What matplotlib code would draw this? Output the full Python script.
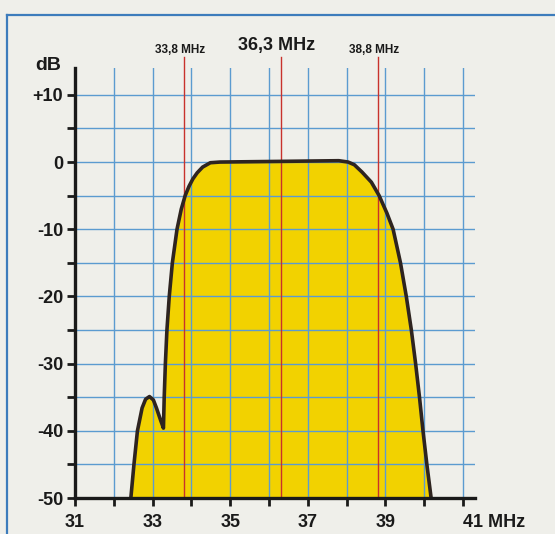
import matplotlib
matplotlib.use("Agg")
import matplotlib.pyplot as plt
from matplotlib.lines import Line2D

# risposta del filtro SAW (MHz, dB)
freq = [32.44, 32.52, 32.61, 32.73, 32.82, 32.92, 33.02, 33.10, 33.20, 33.28,
        33.30, 33.33, 33.37, 33.43, 33.51, 33.63, 33.74, 33.84, 33.94, 34.04,
        34.15, 34.29, 34.49, 34.74, 36.30, 37.80, 38.04, 38.20, 38.40, 38.64,
        38.84, 39.04, 39.20, 39.39, 39.54, 39.67, 39.78, 39.88, 39.97, 40.07,
        40.18]
level = [-50.0, -45.0, -40.0, -36.6, -35.3, -34.9, -35.4, -36.6, -38.3, -39.6,
         -35.0, -30.0, -25.0, -20.0, -15.0, -10.0, -7.0, -5.0, -3.6, -2.5,
         -1.6, -0.75, -0.1, 0.0, 0.1, 0.2, 0.0, -0.4, -1.5, -3.0,
         -5.0, -7.6, -10.0, -15.0, -20.0, -25.0, -30.0, -35.0, -40.0, -45.0,
         -50.0]

marker_mhz = [33.8, 36.3, 38.8]
marker_text = ['33,8 MHz', '36,3 MHz', '38,8 MHz']
marker_size = [8.5, 13, 8.5]

x_ticks = list(range(31, 42))
x_labels = ['31', '', '33', '', '35', '', '37', '', '39', '', '41 MHz']
y_major = list(range(-50, 11, 10))
y_labels = ['-50', '-40', '-30', '-20', '-10', '0', '+10']
y_minor = list(range(-45, 10, 10))

bg = '#efefea'
blue = '#5b9bd0'
ink = '#1a1a1a'
font = ['Liberation Sans', 'DejaVu Sans']

fig = plt.figure(figsize=(5.55, 5.34), dpi=100, facecolor=bg)
ax = fig.add_axes([0.1351, 0.0674, 0.72, 0.8053])
ax.set_facecolor('none')
ax.set_xlim(31, 41.3)
ax.set_ylim(-50, 14)

ax.fill_between(freq, level, -50, color='#f2d200', lw=0, zorder=1)
ax.plot(freq, level, color='#2e2420', lw=2.6, solid_joinstyle='round', zorder=5)

for f, t, s in zip(marker_mhz, marker_text, marker_size):
    ax.plot([f, f], [-50, 15.6], color='#c8322c', lw=1.0, clip_on=False, zorder=4)
    ax.text(f - 0.1, 17.3 if s > 10 else 16.7, t, ha='center', va='center',
            fontsize=s, fontweight='bold', family=font, color=ink)

ax.set_xticks(x_ticks)
ax.set_xticklabels(x_labels)
ax.set_yticks(y_major)
ax.set_yticklabels(y_labels)
ax.set_yticks(y_minor, minor=True)
for lab in ax.get_xticklabels() + ax.get_yticklabels():
    lab.set_family(font)
    lab.set_fontweight('bold')
    lab.set_fontsize(13)
    lab.set_color(ink)
ax.get_xticklabels()[-1].set_ha('left')

ax.grid(which='both', color=blue, lw=1.0, zorder=2)
ax.set_axisbelow(False)
ax.tick_params(which='both', direction='out', length=5.5, width=2.0, color=ink)
ax.tick_params(axis='x', pad=6)
ax.tick_params(axis='y', pad=3)

for side in ('top', 'right'):
    ax.spines[side].set_visible(False)
for side in ('left', 'bottom'):
    ax.spines[side].set_linewidth(2.4)
    ax.spines[side].set_color(ink)
    ax.spines[side].set_zorder(6)

fig.text(48 / 555, 1 - 65 / 534, 'dB', ha='center', va='center', fontsize=14,
         fontweight='bold', family=font, color=ink)

# cornice blu
fig.add_artist(Line2D([7 / 555, 1.0], [1 - 15 / 534, 1 - 15 / 534],
                      color='#3d7cbc', lw=1.6, transform=fig.transFigure))
fig.add_artist(Line2D([7 / 555, 7 / 555], [0, 1 - 15 / 534],
                      color='#3d7cbc', lw=1.6, transform=fig.transFigure))

fig.savefig('out.png', dpi=100, facecolor=bg)
